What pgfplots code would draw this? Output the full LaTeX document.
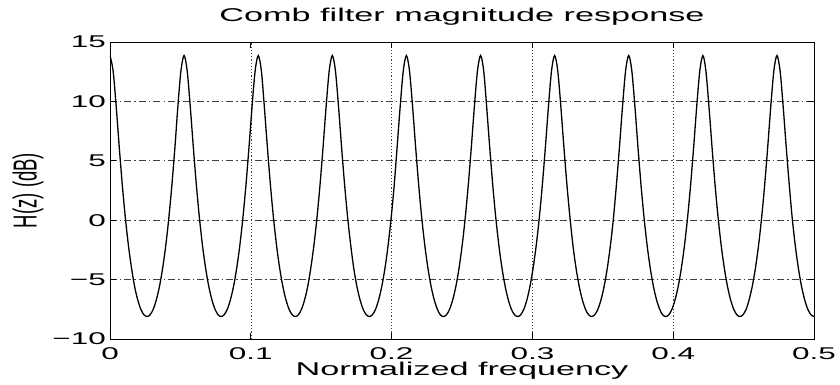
\documentclass[border=0pt]{standalone}
\usepackage{fontspec}
\setmainfont{Liberation Sans}[FakeStretch=1.85]
\newfontfamily\narrowfont{Liberation Sans}
\usepackage{graphicx}
\usepackage{pgfplots}
\pgfplotsset{compat=1.18}
\begin{document}
\begin{tikzpicture}
\useasboundingbox (-110pt,-46pt) rectangle (730pt,339pt);
\begin{axis}[
  at={(0,0)}, anchor=south west,
  scale only axis, width=704pt, height=297pt,
  xmin=0, xmax=0.5, ymin=-10, ymax=15,
  xtick={0,0.1,0.2,0.3,0.4,0.5},
  xticklabels={0,0.1,0.2,0.3,0.4,0.5},
  ytick={-10,-5,0,5,10,15},
  yticklabels={−10,−5,0,5,10,15},
  /pgf/number format/assume math mode=true,
  tick label style={font=\fontsize{17}{20}\selectfont, inner sep=0pt},
  xticklabel style={anchor=north, yshift=-8pt},
  yticklabel style={anchor=east, xshift=-4pt},
  tick align=inside, major tick length=6pt,
  axis line style={black, line width=0.8pt},
  every tick/.style={black, line width=0.8pt},
  grid=major,
  x grid style={black!75, line width=0.6pt, dash pattern=on 1.2pt off 2pt},
  y grid style={black!75, line width=0.6pt, dash pattern=on 7pt off 3pt on 1.5pt off 3pt},
  title={Comb filter magnitude response},
  title style={at={(axis description cs:0.5,1)}, anchor=base, yshift=14pt, font=\fontsize{18.5}{22}\selectfont},
  xlabel={Normalized frequency},
  xlabel style={at={(axis description cs:0.5,0)}, anchor=base, yshift=-37pt, font=\fontsize{18.5}{22}\selectfont},
  ylabel={\narrowfont\scalebox{1}[1.8]{H(z) (dB)}},
  ylabel style={at={(axis description cs:0,0.5)}, anchor=center, rotate=0, yshift=82pt, font=\fontsize{18.5}{22}\selectfont},
]
\addplot[black, line width=1.3pt, smooth, tension=0.5] coordinates {
(0,13.86) (0.0022,12.59) (0.0044,9.57) (0.0066,6.11) (0.0088,2.88) (0.0110,0.09) (0.0132,-2.23) (0.0154,-4.11) (0.0175,-5.60) (0.0197,-6.71) (0.0219,-7.50) (0.0241,-7.96) (0.0263,-8.11) (0.0285,-7.96) (0.0307,-7.50) (0.0329,-6.71) (0.0351,-5.60) (0.0373,-4.11) (0.0395,-2.23) (0.0417,0.09) (0.0439,2.88) (0.0461,6.11) (0.0482,9.57) (0.0504,12.59)
(0.0526,13.86) (0.0548,12.59) (0.0570,9.57) (0.0592,6.11) (0.0614,2.88) (0.0636,0.09) (0.0658,-2.23) (0.0680,-4.11) (0.0702,-5.60) (0.0724,-6.71) (0.0746,-7.50) (0.0768,-7.96) (0.0789,-8.11) (0.0811,-7.96) (0.0833,-7.50) (0.0855,-6.71) (0.0877,-5.60) (0.0899,-4.11) (0.0921,-2.23) (0.0943,0.09) (0.0965,2.88) (0.0987,6.11) (0.1009,9.57) (0.1031,12.59)
(0.1053,13.86) (0.1075,12.59) (0.1096,9.57) (0.1118,6.11) (0.1140,2.88) (0.1162,0.09) (0.1184,-2.23) (0.1206,-4.11) (0.1228,-5.60) (0.1250,-6.71) (0.1272,-7.50) (0.1294,-7.96) (0.1316,-8.11) (0.1338,-7.96) (0.1360,-7.50) (0.1382,-6.71) (0.1404,-5.60) (0.1425,-4.11) (0.1447,-2.23) (0.1469,0.09) (0.1491,2.88) (0.1513,6.11) (0.1535,9.57) (0.1557,12.59)
(0.1579,13.86) (0.1601,12.59) (0.1623,9.57) (0.1645,6.11) (0.1667,2.88) (0.1689,0.09) (0.1711,-2.23) (0.1732,-4.11) (0.1754,-5.60) (0.1776,-6.71) (0.1798,-7.50) (0.1820,-7.96) (0.1842,-8.11) (0.1864,-7.96) (0.1886,-7.50) (0.1908,-6.71) (0.1930,-5.60) (0.1952,-4.11) (0.1974,-2.23) (0.1996,0.09) (0.2018,2.88) (0.2039,6.11) (0.2061,9.57) (0.2083,12.59)
(0.2105,13.86) (0.2127,12.59) (0.2149,9.57) (0.2171,6.11) (0.2193,2.88) (0.2215,0.09) (0.2237,-2.23) (0.2259,-4.11) (0.2281,-5.60) (0.2303,-6.71) (0.2325,-7.50) (0.2346,-7.96) (0.2368,-8.11) (0.2390,-7.96) (0.2412,-7.50) (0.2434,-6.71) (0.2456,-5.60) (0.2478,-4.11) (0.2500,-2.23) (0.2522,0.09) (0.2544,2.88) (0.2566,6.11) (0.2588,9.57) (0.2610,12.59)
(0.2632,13.86) (0.2654,12.59) (0.2675,9.57) (0.2697,6.11) (0.2719,2.88) (0.2741,0.09) (0.2763,-2.23) (0.2785,-4.11) (0.2807,-5.60) (0.2829,-6.71) (0.2851,-7.50) (0.2873,-7.96) (0.2895,-8.11) (0.2917,-7.96) (0.2939,-7.50) (0.2961,-6.71) (0.2982,-5.60) (0.3004,-4.11) (0.3026,-2.23) (0.3048,0.09) (0.3070,2.88) (0.3092,6.11) (0.3114,9.57) (0.3136,12.59)
(0.3158,13.86) (0.3180,12.59) (0.3202,9.57) (0.3224,6.11) (0.3246,2.88) (0.3268,0.09) (0.3289,-2.23) (0.3311,-4.11) (0.3333,-5.60) (0.3355,-6.71) (0.3377,-7.50) (0.3399,-7.96) (0.3421,-8.11) (0.3443,-7.96) (0.3465,-7.50) (0.3487,-6.71) (0.3509,-5.60) (0.3531,-4.11) (0.3553,-2.23) (0.3575,0.09) (0.3596,2.88) (0.3618,6.11) (0.3640,9.57) (0.3662,12.59)
(0.3684,13.86) (0.3706,12.59) (0.3728,9.57) (0.3750,6.11) (0.3772,2.88) (0.3794,0.09) (0.3816,-2.23) (0.3838,-4.11) (0.3860,-5.60) (0.3882,-6.71) (0.3904,-7.50) (0.3925,-7.96) (0.3947,-8.11) (0.3969,-7.96) (0.3991,-7.50) (0.4013,-6.71) (0.4035,-5.60) (0.4057,-4.11) (0.4079,-2.23) (0.4101,0.09) (0.4123,2.88) (0.4145,6.11) (0.4167,9.57) (0.4189,12.59)
(0.4211,13.86) (0.4232,12.59) (0.4254,9.57) (0.4276,6.11) (0.4298,2.88) (0.4320,0.09) (0.4342,-2.23) (0.4364,-4.11) (0.4386,-5.60) (0.4408,-6.71) (0.4430,-7.50) (0.4452,-7.96) (0.4474,-8.11) (0.4496,-7.96) (0.4518,-7.50) (0.4539,-6.71) (0.4561,-5.60) (0.4583,-4.11) (0.4605,-2.23) (0.4627,0.09) (0.4649,2.88) (0.4671,6.11) (0.4693,9.57) (0.4715,12.59)
(0.4737,13.86) (0.4759,12.59) (0.4781,9.57) (0.4803,6.11) (0.4825,2.88) (0.4846,0.09) (0.4868,-2.23) (0.4890,-4.11) (0.4912,-5.60) (0.4934,-6.71) (0.4956,-7.50) (0.4978,-7.96) (0.5000,-8.11)
};
\end{axis}
\end{tikzpicture}
\end{document}
